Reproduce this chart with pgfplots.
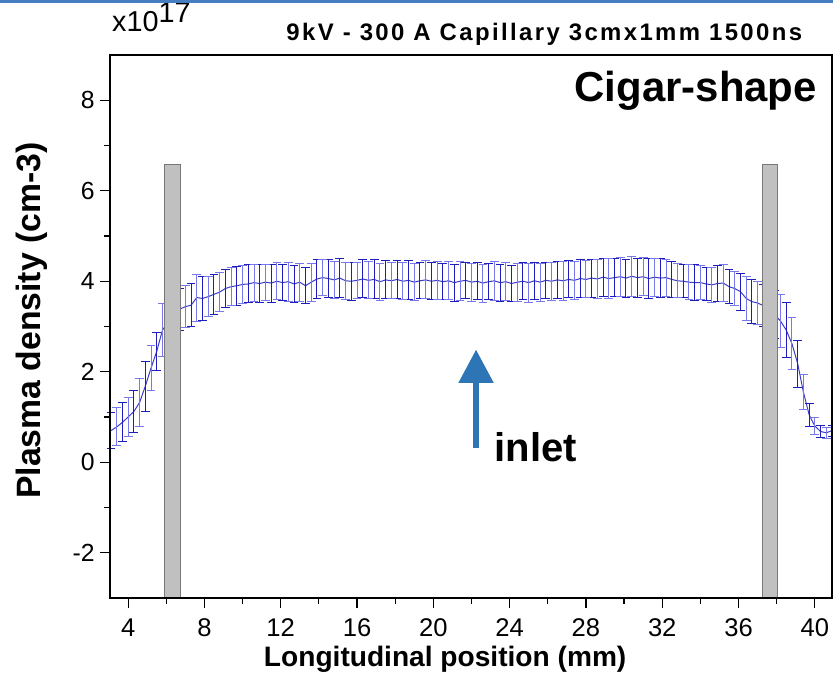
\documentclass[border=0pt]{standalone}
\usepackage{fontspec}
\setmainfont{Liberation Sans}
\newfontfamily\titlefont{Liberation Sans}[LetterSpace=10]
\usepackage{pgfplots}
\usepackage{pgfplotstable}
\pgfplotsset{compat=1.18}
\usetikzlibrary{arrows.meta}
\definecolor{barblue}{RGB}{30,30,190}
\definecolor{barlight}{RGB}{120,120,235}
\definecolor{lineblue}{RGB}{60,60,200}
\definecolor{arrowblue}{RGB}{46,117,182}
\definecolor{slabfill}{RGB}{192,192,192}
\definecolor{slabdraw}{RGB}{120,120,120}
\definecolor{topline}{RGB}{70,125,190}

\pgfplotstableread{
x y e
3.1 0.70 0.40
3.4 0.78 0.42
3.7 0.88 0.43
4.0 1.00 0.44
4.3 1.12 0.46
4.6 1.32 0.52
4.9 1.68 0.55
5.2 2.08 0.50
5.5 2.45 0.42
5.8 2.92 0.58
6.1 3.10 0.55
6.4 3.25 0.50
6.7 3.38 0.46
7.0 3.44 0.47
7.3 3.47 0.48
7.6 3.64 0.52
7.9 3.62 0.48
8.2 3.66 0.45
8.5 3.71 0.44
8.8 3.76 0.43
9.1 3.84 0.41
9.4 3.88 0.42
9.7 3.90 0.43
10.0 3.93 0.42
10.3 3.94 0.42
10.6 3.97 0.41
10.9 3.95 0.43
11.2 3.98 0.40
11.5 3.96 0.42
11.8 4.00 0.41
12.1 3.97 0.40
12.4 3.99 0.43
12.7 3.94 0.41
13.0 3.98 0.42
13.3 3.90 0.40
13.6 3.98 0.42
13.9 4.05 0.43
14.2 4.08 0.40
14.5 4.06 0.42
14.8 4.03 0.41
15.1 4.07 0.43
15.4 4.01 0.41
15.7 4.00 0.42
16.0 4.02 0.40
16.3 4.05 0.42
16.6 4.02 0.41
16.9 4.04 0.43
17.2 3.99 0.41
17.5 4.03 0.42
17.8 4.01 0.40
18.1 4.04 0.42
18.4 4.00 0.41
18.7 4.02 0.43
19.0 3.98 0.41
19.3 4.01 0.40
19.6 4.03 0.42
19.9 4.00 0.41
20.2 4.02 0.42
20.5 3.99 0.40
20.8 4.01 0.42
21.1 3.97 0.41
21.4 4.00 0.43
21.7 4.02 0.40
22.0 3.98 0.42
22.3 4.00 0.41
22.6 3.96 0.42
22.9 3.99 0.40
23.2 4.01 0.43
23.5 3.97 0.41
23.8 3.99 0.42
24.1 3.95 0.40
24.4 3.98 0.42
24.7 4.00 0.41
25.0 3.97 0.43
25.3 4.01 0.41
25.6 3.98 0.42
25.9 4.02 0.40
26.2 4.00 0.42
26.5 4.03 0.41
26.8 4.01 0.43
27.1 4.04 0.41
27.4 4.02 0.42
27.7 4.06 0.43
28.0 4.04 0.41
28.3 4.07 0.42
28.6 4.05 0.43
28.9 4.09 0.42
29.2 4.06 0.44
29.5 4.08 0.42
29.8 4.10 0.43
30.1 4.07 0.42
30.4 4.11 0.44
30.7 4.08 0.43
31.0 4.10 0.42
31.3 4.06 0.44
31.6 4.09 0.42
31.9 4.07 0.43
32.2 4.08 0.41
32.5 4.04 0.40
32.8 4.01 0.38
33.1 4.00 0.37
33.4 3.98 0.38
33.7 3.97 0.39
34.0 3.97 0.38
34.3 3.94 0.37
34.6 3.92 0.38
34.9 3.95 0.40
35.2 3.96 0.41
35.5 3.88 0.38
35.8 3.84 0.38
36.1 3.77 0.41
36.4 3.62 0.48
36.7 3.55 0.48
37.0 3.52 0.47
37.3 3.46 0.47
37.6 3.38 0.50
37.9 3.26 0.53
38.2 3.12 0.58
38.5 2.92 0.60
38.8 2.62 0.58
39.1 2.18 0.52
39.4 1.55 0.38
39.7 1.05 0.25
40.0 0.80 0.18
40.3 0.68 0.13
40.6 0.65 0.12
40.9 0.70 0.12
}\density

\begin{document}
\begin{tikzpicture}
\begin{axis}[
  scale only axis,
  width=180.5mm, height=135.75mm,
  xmin=3.05, xmax=40.9, ymin=-3, ymax=9,
  xtick={4,8,...,40}, ytick={-2,0,...,8},
  minor x tick num=1, minor y tick num=1,
  tick align=outside, tick pos=left,
  major tick length=2.6mm, minor tick length=1.4mm,
  axis line style={line width=0.45mm, black},
  tick style={line width=0.3mm, black},
  axis on top,
  clip=false,
  /pgf/number format/assume math mode=true,
  yticklabel style={font=\fontsize{17.6}{20}\selectfont},
  xticklabel style={font=\fontsize{18.2}{20}\selectfont, yshift=-1.3mm},
]
\addplot[lineblue, line width=0.25mm, no markers] table[x=x,y=y]{\density};
\addplot[color=barblue, draw=none, no markers, forget plot,
  x filter/.expression={mod(\coordindex,2)==0 ? x : nan},
  error bars/.cd, y dir=both, y explicit,
  error bar style={color=barblue, line width=0.25mm},
  error mark options={rotate=90, color=barblue, line width=0.25mm, mark size=1.1mm}]
  table[x=x,y=y,y error=e]{\density};
\addplot[color=barlight, draw=none, no markers, forget plot,
  x filter/.expression={mod(\coordindex,2)==1 ? x : nan},
  error bars/.cd, y dir=both, y explicit,
  error bar style={color=barlight, line width=0.25mm},
  error mark options={rotate=90, color=barlight, line width=0.25mm, mark size=1.1mm}]
  table[x=x,y=y,y error=e]{\density};
\addplot[fill=slabfill, draw=slabdraw, line width=0.25mm] coordinates {(5.93,-3) (6.77,-3) (6.77,6.59) (5.93,6.59)} -- cycle;
\addplot[fill=slabfill, draw=slabdraw, line width=0.25mm] coordinates {(37.24,-3) (38.03,-3) (38.03,6.59) (37.24,6.59)} -- cycle;
\addplot[arrowblue, line width=1.5mm, -{Triangle[width=8.4mm,length=8.3mm]}] coordinates {(22.24,0.32) (22.24,2.49)};
\node[anchor=base east, inner sep=0pt, font=\titlefont\bfseries\fontsize{17}{19}\selectfont] at (axis cs:39.35,9.33) {9kV - 300 A Capillary 3cmx1mm 1500ns};
\node[anchor=base west, inner sep=0pt, font=\fontsize{20.5}{22}\selectfont] at (axis cs:3.15,9.51) {x10\raisebox{2.3mm}{17}};
\node[anchor=base east, inner sep=0pt, font=\bfseries\fontsize{29.8}{32}\selectfont] at (axis cs:40.12,7.97) {Cigar-shape};
\node[anchor=base west, inner sep=0pt, font=\bfseries\fontsize{28.5}{32}\selectfont] at (axis cs:23.2,0.02) {inlet};
\node[anchor=base, inner sep=0pt, font=\bfseries\fontsize{20}{22}\selectfont] at (axis cs:20.62,-4.52) {Longitudinal position (mm)};
\node[anchor=base, rotate=90, inner sep=0pt, font=\bfseries\fontsize{24}{26}\selectfont] at (axis cs:-0.57,3.13) {Plasma density (cm-3)};
\end{axis}
\draw[topline, line width=0.75mm] ([shift={(-27.5mm,13.375mm)}]current axis.north west) -- ([shift={(0.25mm,13.375mm)}]current axis.north east);
\pgfresetboundingbox
\path[use as bounding box] ([shift={(-27.5mm,-25.25mm)}]current axis.south west) rectangle ([shift={(0.25mm,13.75mm)}]current axis.north east);
\end{tikzpicture}
\end{document}
